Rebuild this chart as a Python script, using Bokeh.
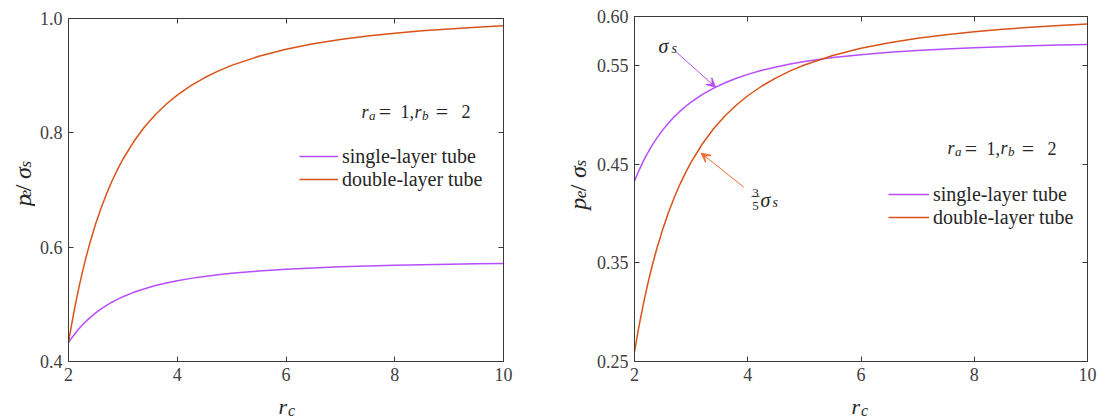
import numpy as np
from bokeh.plotting import figure
from bokeh.models import (Range1d, LinearAxis, FixedTicker, CustomJSTickFormatter, Label,
                          Legend, LegendItem, Arrow, VeeHead)
from bokeh.layouts import row, column
from bokeh.embed import file_html
from bokeh.resources import INLINE

# ---------------- data ----------------
rc = [2.0, 2.05, 2.1, 2.15, 2.2, 2.25, 2.3, 2.35, 2.4, 2.5, 2.6, 2.7, 2.8, 2.9, 3.0,
      3.2, 3.4, 3.6, 3.8, 4.0, 4.25, 4.5, 4.75, 5.0, 5.5, 6.0, 6.5, 7.0, 7.5, 8.0,
      8.5, 9.0, 9.5, 10.0]
single_layer = [0.4330, 0.4400, 0.4464, 0.4525, 0.4581, 0.4633, 0.4682, 0.4728, 0.4771,
                0.4850, 0.4919, 0.4982, 0.5037, 0.5087, 0.5132, 0.5210, 0.5274, 0.5328,
                0.5374, 0.5413, 0.5454, 0.5488, 0.5518, 0.5543, 0.5583, 0.5613, 0.5637,
                0.5656, 0.5671, 0.5683, 0.5694, 0.5702, 0.5710, 0.5716]
double_layer_left = [0.4330, 0.4608, 0.4867, 0.5108, 0.5332, 0.5542, 0.5738, 0.5922, 0.6094,
                     0.6409, 0.6687, 0.6936, 0.7158, 0.7357, 0.7538, 0.7848, 0.8106, 0.8322,
                     0.8504, 0.8660, 0.8825, 0.8963, 0.9080, 0.9180, 0.9340, 0.9462, 0.9557,
                     0.9632, 0.9693, 0.9743, 0.9784, 0.9818, 0.9848, 0.9873]
double_layer_right = [0.2598, 0.2765, 0.2920, 0.3065, 0.3199, 0.3325, 0.3443, 0.3553, 0.3656,
                      0.3845, 0.4012, 0.4162, 0.4295, 0.4414, 0.4523, 0.4709, 0.4864, 0.4993,
                      0.5102, 0.5196, 0.5295, 0.5378, 0.5448, 0.5508, 0.5604, 0.5677, 0.5734,
                      0.5779, 0.5816, 0.5846, 0.5870, 0.5891, 0.5909, 0.5924]
x_ticks = [2, 4, 6, 8, 10]
left_y_ticks = [0.4, 0.6, 0.8, 1.0]
right_y_ticks = [0.25, 0.35, 0.45, 0.55, 0.60]
legend_labels = ["single-layer tube", "double-layer tube"]

PURPLE = "#B84DFF"
ORANGE = "#D95319"
ORANGE_ARROW = "#F26B35"
AX = "#3a3a3a"
TICKTXT = "#404040"
TXT = "#262626"
FONT = "Liberation Serif"

MAIN_H = 389
XSTRIP_H = 417 - MAIN_H
TEXT_DY = 3     # raise horizontal texts a little (px)
ROT_DX = 6      # move rotated texts a little to the left (px)
# frame geometry (page pixels)
LEFT = dict(page_x=35, width=523, x0=68, x1=503, top=18, bot=361, ylo=0.4, yhi=1.0)
RIGHT = dict(page_x=593, width=507, x0=634, x1=1087, top=16, bot=361, ylo=0.25, yhi=0.60)


def to_data(fr, X, Y):
    x = 2 + (X - fr["x0"]) / (fr["x1"] - fr["x0"]) * 8
    y = fr["ylo"] + (fr["bot"] - Y) / (fr["bot"] - fr["top"]) * (fr["yhi"] - fr["ylo"])
    return x, y


def style_axis(ax, show):
    ax.axis_line_color = AX
    ax.axis_line_width = 1
    ax.major_tick_line_color = AX
    ax.major_tick_in = 5
    ax.major_tick_out = 0
    ax.minor_tick_line_color = None
    ax.major_label_text_font = FONT
    if show:
        ax.major_label_text_color = TICKTXT
        ax.major_label_text_font_size = "18px"
        ax.major_label_standoff = 6
    else:
        ax.major_label_text_color = None
        ax.major_label_text_font_size = "1px"
        ax.major_label_standoff = 0


def make_fig(fr, yticks, prec):
    left_b = fr["x0"] - fr["page_x"]
    right_b = fr["page_x"] + fr["width"] - fr["x1"]
    p = figure(width=fr["width"], height=MAIN_H,
               x_range=Range1d(2, 10), y_range=Range1d(fr["ylo"], fr["yhi"]),
               output_backend="svg", toolbar_location=None,
               min_border_left=left_b, min_border_right=right_b,
               min_border_top=fr["top"], min_border_bottom=MAIN_H - fr["bot"])
    p.grid.grid_line_color = None
    p.outline_line_color = AX
    p.background_fill_color = "white"
    p.border_fill_color = "white"
    p.xaxis.ticker = FixedTicker(ticks=x_ticks)
    p.yaxis.ticker = FixedTicker(ticks=yticks)
    p.yaxis.formatter = CustomJSTickFormatter(code=f"return tick.toFixed({prec});")
    for a in p.xaxis:
        style_axis(a, True)
    for a in p.yaxis:
        style_axis(a, True)
    top_ax = LinearAxis(ticker=FixedTicker(ticks=x_ticks))
    right_ax = LinearAxis(ticker=FixedTicker(ticks=yticks))
    style_axis(top_ax, False)
    style_axis(right_ax, False)
    p.add_layout(top_ax, "above")
    p.add_layout(right_ax, "right")
    return p


def text_fig(w, h):
    f = figure(width=w, height=h, x_range=Range1d(0, w), y_range=Range1d(0, h),
               output_backend="svg", toolbar_location=None, title=None,
               min_border=0, min_border_left=0, min_border_right=0,
               min_border_top=0, min_border_bottom=0,
               x_axis_location=None, y_axis_location=None)
    f.grid.grid_line_color = None
    f.outline_line_color = None
    f.background_fill_color = "white"
    f.border_fill_color = "white"
    return f


def tlab(f, x, y, text, size, italic=False, angle=0.0, align="left", color=TXT):
    f.add_layout(Label(x=x, y=y, text=text, text_font=FONT, text_font_size=f"{size}px",
                       text_font_style="italic" if italic else "normal",
                       angle=angle, text_align=align, text_baseline="alphabetic",
                       text_color=color))


def lab(p, fr, X, Y, text, size, italic=False, align="left", color=TXT):
    x, y = to_data(fr, X, Y - TEXT_DY)
    tlab(p, x, y, text, size, italic, 0.0, align, color)


def ylabel_fig(w, base_x, starts, size, sub):
    f = text_fig(w, MAIN_H)
    pY, eY, slY, sgY, sY = starts
    a = np.pi / 2
    bx = base_x - ROT_DX
    tlab(f, bx, MAIN_H - pY, "p", size, True, a)
    tlab(f, bx + 3, MAIN_H - eY, "e", sub, True, a)
    tlab(f, bx, MAIN_H - slY, "/", size, False, a)
    tlab(f, bx, MAIN_H - sgY, "σ", size, True, a)
    tlab(f, bx + 3, MAIN_H - sY, "s", sub, True, a)
    return f


def xlabel_fig(w, rx):
    f = text_fig(w, XSTRIP_H)
    tlab(f, rx, 417 - (409 - TEXT_DY), "r", 22, True)
    tlab(f, rx + 9.5, 417 - (413 - TEXT_DY), "c", 16, True)
    return f


def param_text(p, fr, dx, base):
    lab(p, fr, 947 + dx, base, "r", 18, True)
    lab(p, fr, 954.5 + dx, base + 3.5, "a", 13, True)
    lab(p, fr, 970.5 + dx, base, "=", 22, False, align="center")
    lab(p, fr, 986 + dx, base, "1,", 18)
    lab(p, fr, 1000 + dx, base, "r", 18, True)
    lab(p, fr, 1007.5 + dx, base + 3.5, "b", 13, True)
    lab(p, fr, 1027.5 + dx, base, "=", 22, False, align="center")
    lab(p, fr, 1047 + dx, base, "2", 18)


def add_legend(p, r1, r2, fr, gx, center1, center2, gw):
    item_h = center2 - center1
    bottom_page = center2 + item_h / 2
    leg = Legend(items=[LegendItem(label=legend_labels[0], renderers=[r1]),
                        LegendItem(label=legend_labels[1], renderers=[r2])],
                 location=(gx - fr["x0"], fr["bot"] - bottom_page),
                 border_line_color=None, background_fill_alpha=0,
                 label_text_font=FONT, label_text_font_size="20px",
                 label_text_color=TXT,
                 glyph_width=gw, glyph_height=20, label_height=20, spacing=0,
                 padding=0, margin=0, label_standoff=4)
    p.add_layout(leg)


# ---------------- left panel ----------------
p1 = make_fig(LEFT, left_y_ticks, 1)
s1 = p1.line(rc, single_layer, line_color=PURPLE, line_width=1.5)
d1 = p1.line(rc, double_layer_left, line_color=ORANGE, line_width=1.5)
add_legend(p1, s1, d1, LEFT, 299, 155.7, 179.0, 39)
param_text(p1, LEFT, -586, 114)

# ---------------- right panel ----------------
p2 = make_fig(RIGHT, right_y_ticks, 2)
s2 = p2.line(rc, single_layer, line_color=PURPLE, line_width=1.5)
d2 = p2.line(rc, double_layer_right, line_color=ORANGE, line_width=1.5)
add_legend(p2, s2, d2, RIGHT, 888, 193.0, 216.7, 41)
param_text(p2, RIGHT, 0, 150.5)

# annotation: sigma_s -> single-layer
lab(p2, RIGHT, 658, 48, "σ", 20, True)
lab(p2, RIGHT, 671, 50.5, "s", 14, True)
xs, ys = to_data(RIGHT, 676, 51.7)
xe, ye = to_data(RIGHT, 715, 86.7)
p2.add_layout(Arrow(end=VeeHead(size=9, fill_color=PURPLE, line_color=PURPLE),
                    x_start=xs, y_start=ys, x_end=xe, y_end=ye,
                    line_color=PURPLE, line_width=1))

# annotation: 3/5 sigma_s -> double-layer
lab(p2, RIGHT, 755, 195, "3", 13, align="center")
lab(p2, RIGHT, 755, 208.5, "5", 13, align="center")
bx0, by0 = to_data(RIGHT, 751, 196)
bx1, by1 = to_data(RIGHT, 759, 196)
p2.add_layout(Arrow(end=None, x_start=bx0, y_start=by0, x_end=bx1, y_end=by1,
                    line_color=TXT, line_width=0.8))
lab(p2, RIGHT, 760, 202, "σ", 20, True)
lab(p2, RIGHT, 772, 205, "s", 14, True)
xs, ys = to_data(RIGHT, 743.3, 186.7)
xe, ye = to_data(RIGHT, 700.7, 152.7)
p2.add_layout(Arrow(end=VeeHead(size=9, fill_color=ORANGE_ARROW, line_color=ORANGE_ARROW),
                    x_start=xs, y_start=ys, x_end=xe, y_end=ye,
                    line_color=ORANGE_ARROW, line_width=1))

# ---------------- axis-title strips ----------------
yl1 = ylabel_fig(35, 28, (213, 203, 196, 182, 169), 24, 17)
yl2 = ylabel_fig(35, 583 - 558, (218, 205, 197, 182, 169), 24, 17)
xl1 = xlabel_fig(558, 278)
xl2 = xlabel_fig(542, 851 - 558)

layout = row(column(row(yl1, p1, spacing=0), xl1, spacing=0),
             column(row(yl2, p2, spacing=0), xl2, spacing=0), spacing=0)
open("out.html", "w").write(file_html(layout, INLINE))
